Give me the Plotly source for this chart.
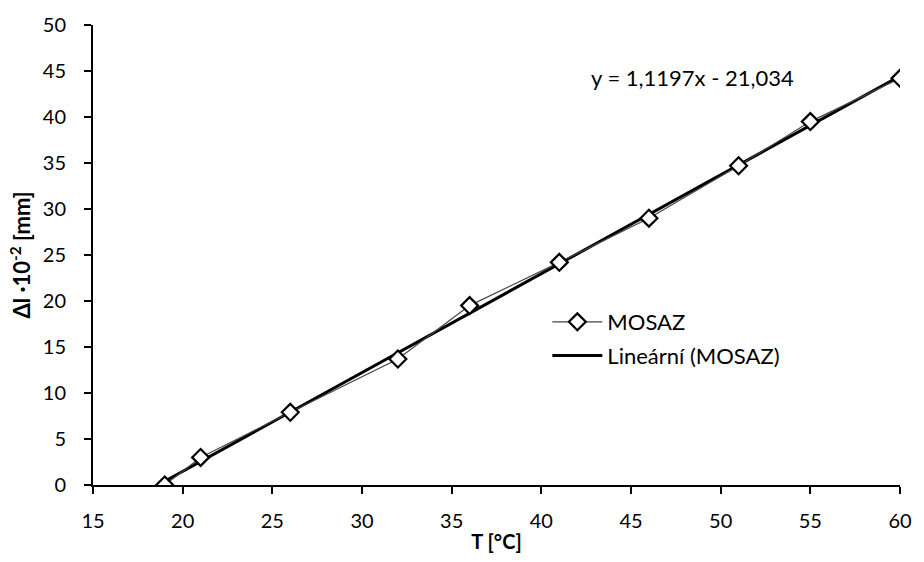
import numpy as np
import plotly.graph_objects as go

# Data
T = [19, 21, 26, 32, 36, 41, 46, 51, 55, 60]
dl = [0.0, 3.0, 7.9, 13.7, 19.5, 24.2, 29.0, 34.7, 39.5, 44.2]
series_name = "MOSAZ"
trend_name = "Lineární (MOSAZ)"
equation_text = "y = 1,1197x - 21,034"
x_ticks = [15, 20, 25, 30, 35, 40, 45, 50, 55, 60]
y_ticks = [0, 5, 10, 15, 20, 25, 30, 35, 40, 45, 50]

# Linear trendline (least squares) from the data
slope, intercept = np.polyfit(T, dl, 1)
trend_x = [min(T), max(T)]
trend_y = [slope * x + intercept for x in trend_x]

FONT = "Lato"

fig = go.Figure()
fig.add_trace(go.Scatter(
    x=trend_x, y=trend_y, mode="lines", name=trend_name,
    line=dict(color="black", width=3),
    legendgroup="b", legendrank=2,
))
fig.add_trace(go.Scatter(
    x=T, y=dl, mode="lines+markers", name=series_name,
    line=dict(color="#444444", width=1.2),
    marker=dict(symbol="diamond", size=13, color="white",
                line=dict(color="black", width=2.2)),
    legendgroup="a", legendrank=1,
))

fig.add_annotation(
    text=equation_text, xref="paper", yref="paper",
    x=0.743, y=0.886, xanchor="center", yanchor="middle", showarrow=False,
    font=dict(family=FONT, size=22, color="black"),
)

fig.update_layout(
    width=924, height=562,
    margin=dict(l=93, r=16, t=24, b=75),
    paper_bgcolor="white", plot_bgcolor="white",
    font=dict(family=FONT, size=20, color="black"),
    showlegend=True,
    legend=dict(
        x=0.563, y=0.40, xanchor="left", yanchor="top",
        bgcolor="rgba(0,0,0,0)", font=dict(family=FONT, size=22),
        traceorder="grouped", tracegroupgap=2, itemwidth=50,
    ),
    xaxis=dict(
        range=[15, 60], tickvals=x_ticks, ticktext=[str(v) for v in x_ticks],
        showgrid=False, zeroline=False, showline=True, linecolor="black",
        linewidth=2, ticks="outside", ticklen=7, tickwidth=2, tickcolor="black",
        ticklabelstandoff=10,
        title=dict(text="<b>T [°C]</b>", font=dict(family=FONT, size=20), standoff=4),
    ),
    yaxis=dict(
        range=[0, 50], tickvals=y_ticks, ticktext=[str(v) for v in y_ticks],
        showgrid=False, zeroline=False, showline=True, linecolor="black",
        linewidth=2, ticks="outside", ticklen=7, tickwidth=2, tickcolor="black",
        ticklabelstandoff=14,
        title=dict(text="<b>Δl ·10<sup>-2</sup> [mm]</b>", font=dict(family=FONT, size=22), standoff=6),
    ),
)

fig.write_html("out.html")
